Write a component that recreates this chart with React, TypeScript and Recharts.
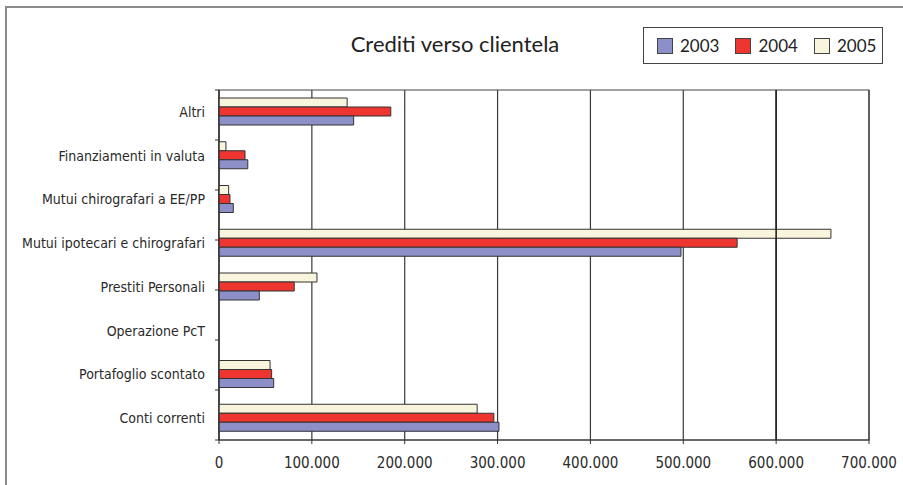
import React from "react";
import {
  BarChart, Bar, XAxis, YAxis, CartesianGrid, ReferenceArea, ReferenceLine,
} from "recharts";

// ── Data ───────────────────────────────────────────────────────────────
const categories = [
  "Altri",
  "Finanziamenti in valuta",
  "Mutui chirografari a EE/PP",
  "Mutui ipotecari e chirografari",
  "Prestiti Personali",
  "Operazione PcT",
  "Portafoglio scontato",
  "Conti correnti",
];
const v2003 = [145000, 31000, 15400, 497500, 43400, 0, 58900, 301500];
const v2004 = [185000, 28000, 11800, 558000, 81000, 0, 56700, 296000];
const v2005 = [138000, 7500, 10400, 659000, 105500, 0, 55000, 278000];
const xTicks = [0, 100000, 200000, 300000, 400000, 500000, 600000, 700000];
// band boundaries of the category axis (0 = bottom, 8 = top)
const bandTicks = categories.map((_, i) => i).concat(categories.length);

const SERIES = [
  { key: "y2003", label: "2003", color: "#8c8fc8" },
  { key: "y2004", label: "2004", color: "#ee3530" },
  { key: "y2005", label: "2005", color: "#f8f5dc" },
];

const data = categories.map((name, i) => ({
  name, y2003: v2003[i], y2004: v2004[i], y2005: v2005[i],
}));

const LABEL_FONT = "'DejaVu Sans Condensed', 'Liberation Sans Narrow', sans-serif";
const TITLE_FONT = "Lato, 'Open Sans', sans-serif";

const fmt = (v: number) => v.toLocaleString("it-IT").replace(/\s/g, ".");

export default function App() {
  return (
    <div style={{ position: "absolute", left: 0, top: 0, width: 903, height: 485, background: "#fff", overflow: "hidden" }}>
      {/* outer frame */}
      <div style={{ position: "absolute", left: 5, top: 6, width: 920, height: 500, borderTop: "2px solid #8a8a8a", borderLeft: "2px solid #8a8a8a" }} />

      {/* title */}
      <div style={{ position: "absolute", left: 355, width: 200, top: 30, textAlign: "center", fontFamily: TITLE_FONT, fontSize: 22, color: "#222", whiteSpace: "nowrap", display: "flex", justifyContent: "center" }}>
        Crediti verso clientela
      </div>

      {/* legend */}
      <div style={{ position: "absolute", left: 643, top: 27, width: 240, height: 37, border: "1px solid #444", boxSizing: "border-box", display: "flex", alignItems: "center", paddingLeft: 13, fontFamily: TITLE_FONT, fontSize: 17, color: "#222" }}>
        {SERIES.map((s) => (
          <div key={s.key} style={{ display: "flex", alignItems: "center", marginRight: 16 }}>
            <span style={{ width: 14, height: 14, background: s.color, border: "1px solid #444", marginRight: 7, display: "inline-block" }} />
            <span>{s.label}</span>
          </div>
        ))}
      </div>

      <div style={{ position: "absolute", left: 0, top: 0 }}>
        <BarChart width={903} height={485} data={data} layout="vertical"
          margin={{ top: 90, right: 34, bottom: 0, left: 9 }} barGap={0} barSize={9}>
          <CartesianGrid horizontal={false} vertical stroke="#3a3a3a" strokeWidth={1.2} />
          <XAxis type="number" domain={[0, 700000]} ticks={xTicks} interval={0} height={45}
            tickFormatter={fmt} tickSize={4} tickMargin={13}
            axisLine={{ stroke: "#333" }} tickLine={{ stroke: "#333" }}
            tick={{ fill: "#2a2a2a", fontSize: 15, fontFamily: LABEL_FONT }} />
          {/* band-boundary ticks + axis line, sits right at the plot edge */}
          <YAxis type="number" domain={[0, categories.length]} ticks={bandTicks}
            interval={0} width={1} tickSize={4} tickFormatter={() => ""}
            axisLine={{ stroke: "#333" }} tickLine={{ stroke: "#333" }} />
          <YAxis yAxisId="cat" type="category" dataKey="name" width={209} interval={0}
            tickSize={0} tickMargin={13} tickLine={false} axisLine={false}
            tick={{ fill: "#2a2a2a", fontSize: 14, fontFamily: LABEL_FONT }} />
          <ReferenceArea x1={0} x2={700000} fill="none" stroke="#444" strokeWidth={1.2} ifOverflow="visible" />
          <ReferenceLine x={600000} stroke="#222" strokeWidth={1.6} />
          <Bar yAxisId="cat" dataKey="y2005" fill="#f8f5dc" stroke="#333" strokeWidth={1} isAnimationActive={false} />
          <Bar yAxisId="cat" dataKey="y2004" fill="#ee3530" stroke="#333" strokeWidth={1} isAnimationActive={false} />
          <Bar yAxisId="cat" dataKey="y2003" fill="#8c8fc8" stroke="#333" strokeWidth={1} isAnimationActive={false} />
        </BarChart>
      </div>
    </div>
  );
}
